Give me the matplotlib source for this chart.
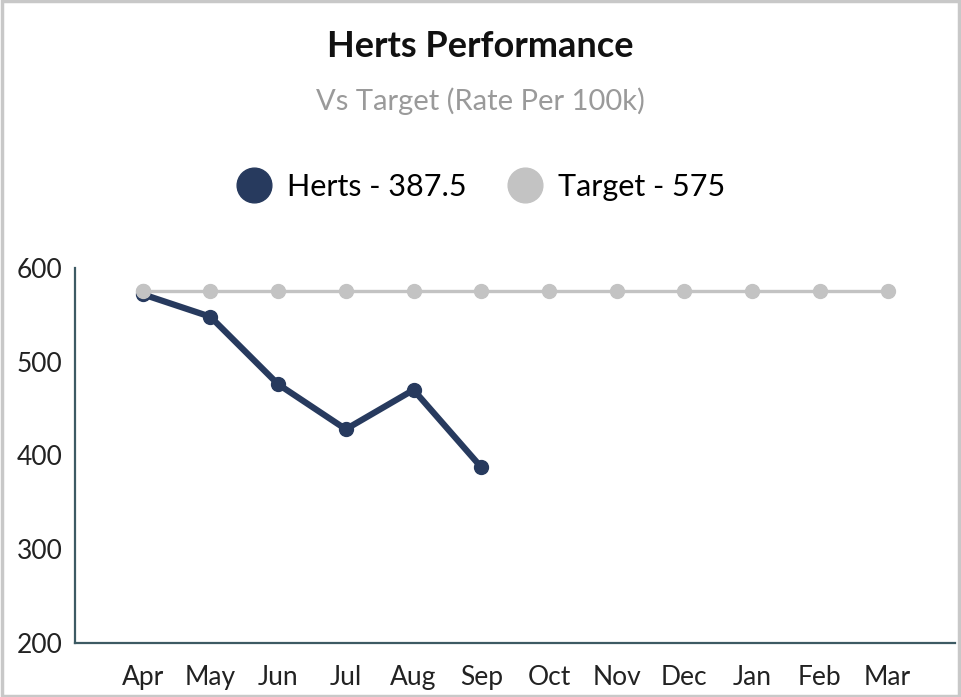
import numpy as np
import matplotlib.pyplot as plt
from matplotlib.lines import Line2D

plt.rcParams['font.family'] = ['Lato', 'DejaVu Sans']

months = ['Apr', 'May', 'Jun', 'Jul', 'Aug', 'Sep', 'Oct', 'Nov', 'Dec', 'Jan', 'Feb', 'Mar']
herts = [572, 548, 476, 428, 470, 387.5]
target = [575] * 12

c_herts = '#273a5e'
c_target = '#c3c3c3'

fig = plt.figure(figsize=(9.61, 6.97), dpi=100)
ax = fig.add_axes([0.078, 0.0775, 0.916, 0.538])

x = np.arange(len(months))
ax.plot(x, target, color=c_target, lw=2.4, marker='o', ms=10, zorder=2)
ax.plot(x[:len(herts)], herts, color=c_herts, lw=4.5, marker='o', ms=10, zorder=3)
# target point over first herts marker
ax.plot(x[:1], target[:1], color=c_target, marker='o', ms=10, lw=0, zorder=4)

ax.set_xlim(-1, 12)
ax.set_ylim(200, 600)
ax.set_yticks([200, 300, 400, 500, 600])
ax.set_xticks(x)
ax.set_xticklabels(months)
ax.tick_params(length=0, labelsize=19, colors='#222222')
ax.tick_params(axis='x', pad=16)
ax.tick_params(axis='y', pad=9)
for s in ['top', 'right']:
    ax.spines[s].set_visible(False)
for s in ['left', 'bottom']:
    ax.spines[s].set_color('#3d5a63')
    ax.spines[s].set_linewidth(1.6)

fig.text(0.5, 0.933, 'Herts Performance', ha='center', va='center',
         fontsize=26, fontweight='bold', color='#111111')
fig.text(0.5, 0.855, 'Vs Target (Rate Per 100k)', ha='center', va='center',
         fontsize=21, color='#9a9a9a')

handles = [Line2D([], [], color=c_herts, marker='o', ms=25, lw=0),
           Line2D([], [], color=c_target, marker='o', ms=25, lw=0)]
fig.legend(handles, ['Herts - 387.5', 'Target - 575'], loc='center',
           bbox_to_anchor=(0.5, 0.732), ncol=2, frameon=False, fontsize=22,
           handletextpad=0.5, columnspacing=1.3, handlelength=1.2)

fig.patches.append(plt.Rectangle((0.002, 0.002), 0.996, 0.996, transform=fig.transFigure,
                                 fill=False, edgecolor='#c8c8c8', lw=2.5))

fig.savefig('out.png', dpi=100)
